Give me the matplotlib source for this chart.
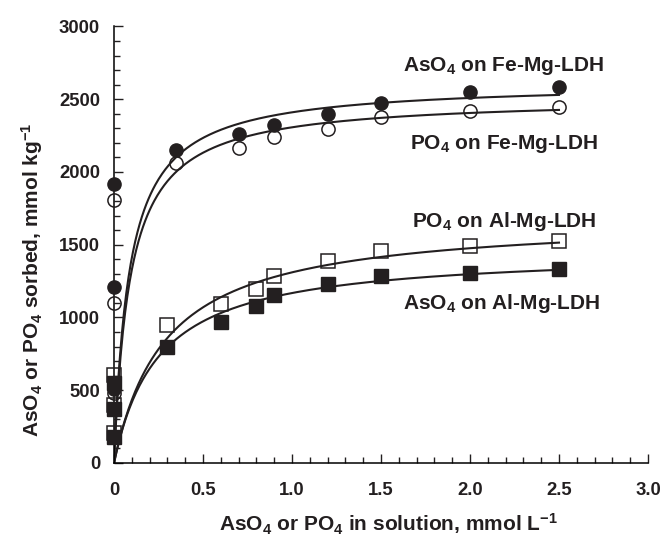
import numpy as np
import matplotlib
matplotlib.use('Agg')
import matplotlib.pyplot as plt

plt.rcParams['font.family'] = ['Liberation Sans', 'DejaVu Sans']
plt.rcParams['font.weight'] = 'bold'
plt.rcParams['mathtext.fontset'] = 'custom'
plt.rcParams['mathtext.rm'] = 'Liberation Sans:bold'
plt.rcParams['mathtext.default'] = 'rm'

# measured sorption data (x = mmol/L in solution, y = mmol/kg sorbed)
as_fe_x = [0, 0, 0, 0.35, 0.7, 0.9, 1.2, 1.5, 2.0, 2.5]
as_fe_y = [510, 1210, 1920, 2150, 2263, 2320, 2399, 2472, 2552, 2586]
p_fe_x = [0, 0, 0, 0.35, 0.7, 0.9, 1.2, 1.5, 2.0, 2.5]
p_fe_y = [480, 1100, 1810, 2064, 2168, 2240, 2293, 2380, 2421, 2445]
p_al_x = [0, 0, 0, 0.3, 0.6, 0.8, 0.9, 1.2, 1.5, 2.0, 2.5]
p_al_y = [208, 400, 605, 948, 1093, 1195, 1286, 1388, 1459, 1491, 1528]
as_al_x = [0, 0, 0, 0.3, 0.6, 0.8, 0.9, 1.2, 1.5, 2.0, 2.5]
as_al_y = [177, 369, 550, 799, 971, 1079, 1155, 1228, 1287, 1306, 1332]

# Langmuir fit parameters (Qmax, K) estimated from the drawn curves
fit_as_fe = (2616, 11.7)
fit_p_fe = (2513, 11.2)
fit_p_al = (1690, 3.45)
fit_as_al = (1460, 4.0)

labels = [r'AsO$_{4}$ on Fe-Mg-LDH', r'PO$_{4}$ on Fe-Mg-LDH',
          r'PO$_{4}$ on Al-Mg-LDH', r'AsO$_{4}$ on Al-Mg-LDH']
label_x = [2.19, 2.19, 2.19, 2.18]
label_y = [2691, 2158, 1625, 1055]

ink = '#231f20'

fig = plt.figure(figsize=(6.61, 5.40), dpi=100)
ax = fig.add_axes([0.1725, 0.1426, 0.8078, 0.8084])

c = np.linspace(0, 2.5, 400)
for qmax, k in [fit_as_fe, fit_p_fe, fit_p_al, fit_as_al]:
    ax.plot(c, qmax * k * c / (1 + k * c), color=ink, lw=1.5, zorder=2)

ax.plot(as_fe_x, as_fe_y, 'o', ms=9.5, color=ink, clip_on=False, zorder=3)
ax.plot(p_fe_x, p_fe_y, 'o', ms=9.5, mfc='none', mec=ink, mew=1.1, clip_on=False, zorder=3)
ax.plot(p_al_x, p_al_y, 's', ms=9.5, mfc='none', mec=ink, mew=1.1, clip_on=False, zorder=3)
ax.plot(as_al_x, as_al_y, 's', ms=9.5, color=ink, clip_on=False, zorder=3)

for txt, tx, ty in zip(labels, label_x, label_y):
    ax.text(tx, ty, txt, ha='center', va='baseline', fontsize=15, fontweight='bold', color=ink)

ax.set_xlim(0, 3.0)
ax.set_ylim(0, 3000)
ax.set_xticks(np.arange(0, 3.01, 0.5))
ax.set_xticklabels(['0', '0.5', '1.0', '1.5', '2.0', '2.5', '3.0'])
ax.set_xticks(np.arange(0, 3.01, 0.1), minor=True)
ax.set_yticks(np.arange(0, 3001, 500))
ax.set_yticks(np.arange(0, 3001, 100), minor=True)
ax.spines['top'].set_visible(False)
ax.spines['right'].set_visible(False)
ax.spines['left'].set_linewidth(1.1)
ax.spines['bottom'].set_linewidth(1.1)
ax.tick_params(which='both', direction='in', width=1.0, colors=ink, labelsize=13.3)
ax.tick_params(which='major', length=6.5)
ax.tick_params(which='minor', length=4.3)
ax.tick_params(axis='x', which='major', pad=14)
ax.tick_params(axis='y', which='major', pad=10)
for t in ax.get_xticklabels() + ax.get_yticklabels():
    t.set_fontweight('bold')

ax.set_xlabel(r'AsO$_{4}$ or PO$_{4}$ in solution, mmol L$^{-1}$', fontsize=15, fontweight='bold', color=ink)
ax.set_ylabel(r'AsO$_{4}$ or PO$_{4}$ sorbed, mmol kg$^{-1}$', fontsize=15, fontweight='bold', color=ink)
ax.xaxis.set_label_coords(0.513, -0.112)
ax.yaxis.set_label_coords(-0.13, 0.42)

fig.savefig('out.png', dpi=100)
